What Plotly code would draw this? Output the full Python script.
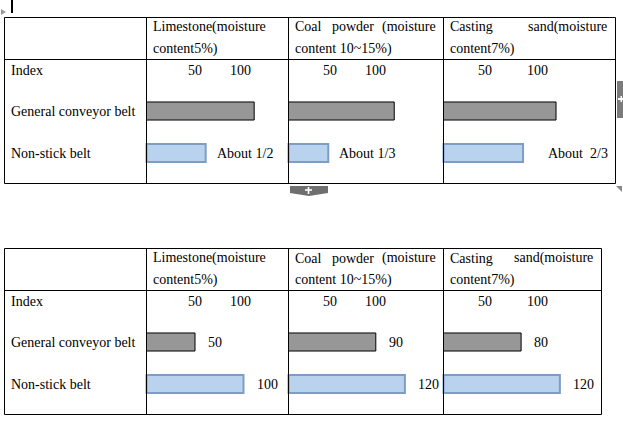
import plotly.graph_objects as go

# ---------------- data ----------------
materials_line1 = ["Limestone(moisture", None, None]
materials_line2 = ["content5%)", "content 10~15%)", "content7%)"]
row_labels = ["Index", "General conveyor belt", "Non-stick belt"]
bar_rows = ["General conveyor belt", "Non-stick belt"]
index_ticks = ["50", "100"]

# table 1 (relative lengths)
t1_general = [111, 109, 116]
t1_nonstick = [61, 41, 82]
t1_labels = ["About 1/2", "About 1/3", "About  2/3"]

# table 2 (labelled values)
t2_general = [50, 90, 80]
t2_nonstick = [100, 120, 120]

# ---------------- layout helpers ----------------
W, H = 623, 424
FONT = "Liberation Serif, Times New Roman, serif"
PX_PER_UNIT = 0.97
PAD = 2.0  # extra room left of each cell so bar borders are not clipped


def px(x):
    return x / W


def py(y):
    return 1 - y / H


fig = go.Figure()
shapes = []
annotations = []


def hline(x0, x1, y, color="black", width=1):
    shapes.append(dict(type="line", xref="paper", yref="paper", x0=px(x0), x1=px(x1),
                       y0=py(y), y1=py(y), line=dict(color=color, width=width)))


def vline(x, y0, y1, color="black", width=1):
    shapes.append(dict(type="line", xref="paper", yref="paper", x0=px(x), x1=px(x),
                       y0=py(y0), y1=py(y1), line=dict(color=color, width=width)))


def text(t, x, y, anchor="left", size=14):
    adj = {"left": -2, "right": 2, "center": 0}[anchor]
    annotations.append(dict(text=t, x=px(x + adj), y=py(y), xref="paper", yref="paper",
                            xanchor=anchor, yanchor="middle", showarrow=False,
                            font=dict(family=FONT, size=size, color="black")))


col_edges = [146.5, 288.5, 443.5]
tick_pos = [(195, 240), (330, 376), (485, 537)]

tables = [
    dict(dy=0, right=615.5, general=t1_general, nonstick=t1_nonstick, labels=t1_labels),
    dict(dy=231, right=601.5, general=t2_general, nonstick=t2_nonstick,
         labels=None),
]

layout_axes = {}
ax = 0
for ti, tb in enumerate(tables):
    dy = tb["dy"]
    right = tb["right"]
    top, hdr, bot = 17.5 + dy, 59.5 + dy, 183.5 + dy
    # grid lines
    hline(4.5, right, top)
    hline(4.5, right, hdr)
    hline(4.5, right, bot)
    for x in [4.5] + col_edges + [right]:
        vline(x, top, bot)

    # header text
    l1, l2, rI = 27 + dy, 49 + dy, 70 + dy
    text(materials_line1[0], 153, l1)
    text("Coal", 295, l1)
    text("powder", 332, l1)
    text("(moisture", 436, l1, anchor="right")
    text("Casting", 450, l1)
    text("sand(moisture", right - 8.5, l1, anchor="right")
    for c, x0 in enumerate([153, 295, 450]):
        text(materials_line2[c], x0, l2)

    # row labels
    text(row_labels[0], 11, rI)
    text(row_labels[1], 11, 111 + dy)
    text(row_labels[2], 11, 153 + dy)
    for c in range(3):
        for k, t in enumerate(index_ticks):
            text(t, tick_pos[c][k], rI, anchor="center")

    # bars, one subplot per cell
    rights = col_edges[1:] + [right]
    for c in range(3):
        ax += 1
        xa = "x" if ax == 1 else f"x{ax}"
        ya = "y" if ax == 1 else f"y{ax}"
        xk = "xaxis" if ax == 1 else f"xaxis{ax}"
        yk = "yaxis" if ax == 1 else f"yaxis{ax}"
        x0, x1 = col_edges[c], rights[c]
        layout_axes[xk] = dict(domain=[px(x0 - PAD), px(x1)],
                               range=[-PAD / PX_PER_UNIT, (x1 - x0) / PX_PER_UNIT],
                               visible=False, fixedrange=True, anchor=ya)
        layout_axes[yk] = dict(domain=[py(174 + dy), py(90 + dy)], visible=False,
                               type="category", categoryorder="array",
                               categoryarray=bar_rows, autorange="reversed",
                               fixedrange=True, anchor=xa)
        fig.add_trace(go.Bar(x=[tb["general"][c]], y=[bar_rows[0]], orientation="h",
                             xaxis=xa, yaxis=ya, marker=dict(color="#979797",
                             line=dict(color="black", width=1)), hoverinfo="skip",
                             cliponaxis=False))
        fig.add_trace(go.Bar(x=[tb["nonstick"][c]], y=[bar_rows[1]], orientation="h",
                             xaxis=xa, yaxis=ya, marker=dict(color="#b9d2ee",
                             line=dict(color="#7e9dc6", width=2)), hoverinfo="skip",
                             cliponaxis=False))
        # value / ratio labels
        if tb["labels"] is not None:
            shift = 23 if c == 2 else 9
            annotations.append(dict(text=tb["labels"][c], x=tb["nonstick"][c], y=bar_rows[1],
                                    xref=xa, yref=ya, xanchor="left", yanchor="middle",
                                    xshift=shift, showarrow=False,
                                    font=dict(family=FONT, size=14, color="black")))
        else:
            for row, vals in zip(bar_rows, [tb["general"], tb["nonstick"]]):
                annotations.append(dict(text=str(vals[c]), x=vals[c], y=row,
                                        xref=xa, yref=ya, xanchor="left", yanchor="middle",
                                        xshift=11, showarrow=False,
                                        font=dict(family=FONT, size=14, color="black")))

# ---------------- editor decorations ----------------
shapes.append(dict(type="rect", xref="paper", yref="paper", x0=px(11), x1=px(13),
                   y0=py(13), y1=py(0), fillcolor="black", line=dict(width=0)))
shapes.append(dict(type="path", xref="paper", yref="paper",
                   path=f"M {px(1)},{py(9)} L {px(6)},{py(12)} L {px(1)},{py(15)} Z",
                   fillcolor="#9a9a9a", line=dict(width=0)))
# bottom insert tab
shapes.append(dict(type="path", xref="paper", yref="paper",
                   path=(f"M {px(290)},{py(186)} L {px(328)},{py(186)} L {px(328)},{py(193)} "
                         f"L {px(309)},{py(196)} L {px(290)},{py(193)} Z"),
                   fillcolor="#6f6f6f", line=dict(width=0)))
shapes.append(dict(type="rect", xref="paper", yref="paper", x0=px(305), x1=px(312),
                   y0=py(190.8), y1=py(189.2), fillcolor="white", line=dict(width=0)))
shapes.append(dict(type="rect", xref="paper", yref="paper", x0=px(307.7), x1=px(309.3),
                   y0=py(194), y1=py(187), fillcolor="white", line=dict(width=0)))
# right insert tab
shapes.append(dict(type="rect", xref="paper", yref="paper", x0=px(617), x1=px(623),
                   y0=py(118), y1=py(81), fillcolor="#7b7b7b", line=dict(width=0)))
shapes.append(dict(type="rect", xref="paper", yref="paper", x0=px(618), x1=px(623),
                   y0=py(100), y1=py(98), fillcolor="white", line=dict(width=0)))
shapes.append(dict(type="rect", xref="paper", yref="paper", x0=px(620.5), x1=px(622),
                   y0=py(102), y1=py(96), fillcolor="white", line=dict(width=0)))
# resize corner
shapes.append(dict(type="path", xref="paper", yref="paper",
                   path=f"M {px(616)},{py(186)} L {px(622)},{py(186)} L {px(622)},{py(192)} Z",
                   fillcolor="#8a8a8a", line=dict(width=0)))

fig.update_layout(
    width=W, height=H,
    margin=dict(l=0, r=0, t=0, b=0),
    paper_bgcolor="white", plot_bgcolor="rgba(0,0,0,0)",
    showlegend=False, barmode="overlay", bargap=0.57,
    shapes=shapes, annotations=annotations,
    **layout_axes,
)

fig.write_html("out.html", config={"displayModeBar": False},
               post_script="document.body.style.margin='0';document.body.style.overflow='hidden';")
